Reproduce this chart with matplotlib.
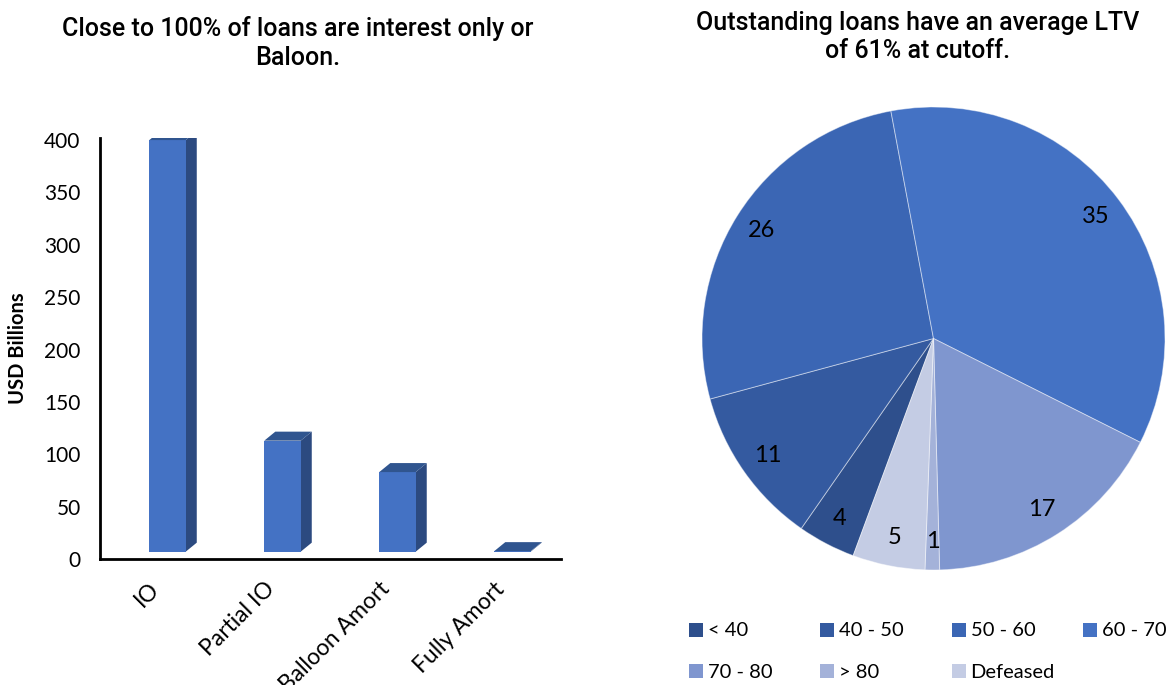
import matplotlib
matplotlib.use("Agg")
import matplotlib.pyplot as plt
from matplotlib.patches import Polygon, Rectangle
from matplotlib.transforms import ScaledTranslation

# ---- data -------------------------------------------------------------
loan_types = ["IO", "Partial IO", "Balloon Amort", "Fully Amort"]
balances = [393, 106, 76, 0.5]          # USD billions
y_ticks = [0, 50, 100, 150, 200, 250, 300, 350, 400]

ltv_buckets = ["< 40", "40 - 50", "50 - 60", "60 - 70", "70 - 80", "> 80", "Defeased"]
ltv_shares = [4, 11, 26, 35, 17, 1, 5]
ltv_colors = ["#2E4F8C", "#345AA0", "#3B66B4", "#4472C4", "#7F96CF", "#A4B2D9", "#C4CCE4"]

left_title = "Close to 100% of loans are interest only or\nBaloon."
right_title = "Outstanding loans have an average LTV\nof 61% at cutoff."

# ---- style ------------------------------------------------------------
plt.rcParams["font.family"] = ["Lato", "DejaVu Sans"]
W, H = 1170, 685
fig = plt.figure(figsize=(W / 100, H / 100), dpi=100)
fig.patch.set_facecolor("white")


def fx(px):
    return px / W


def fy(py):
    return 1 - py / H


# ---- left: pseudo-3D column chart -------------------------------------
FRONT, SIDE, CAP = "#4472C4", "#2C4A80", "#30558F"
FLOOR = 7          # columns sit slightly above the category axis
BAR_W = 0.317
DX, DY = 0.096, 8.6  # depth offset of the column sides

ax1 = fig.add_axes([fx(100), fy(559), fx(461), 421 / H])
xs = list(range(len(loan_types)))
ax1.bar(xs, balances, width=BAR_W, bottom=FLOOR, color=FRONT, linewidth=0, zorder=3)
for xi, v in zip(xs, balances):
    l, r = xi - BAR_W / 2, xi + BAR_W / 2
    top = FLOOR + v
    ax1.add_patch(Polygon([(r, FLOOR), (r + DX, FLOOR + DY), (r + DX, top + DY), (r, top)],
                          closed=True, facecolor=SIDE, edgecolor="none", zorder=2))
    ax1.add_patch(Polygon([(l, top), (r, top), (r + DX, top + DY), (l + DX, top + DY)],
                          closed=True, facecolor=CAP, edgecolor="none", zorder=4))

ax1.set_xlim(-0.587, 3.422)
ax1.set_ylim(0, 402)
for s in ("top", "right"):
    ax1.spines[s].set_visible(False)
for s in ("left", "bottom"):
    ax1.spines[s].set_color("black")
    ax1.spines[s].set_linewidth(2)

ax1.set_yticks(y_ticks)
ax1.tick_params(axis="y", length=0, pad=14, labelsize=15)
ax1.set_xticks(xs)
ax1.set_xticklabels(loan_types, rotation=45, ha="right", va="top", fontsize=16.5)
ax1.tick_params(axis="x", length=0, pad=14)
shift = ScaledTranslation(-4 / 100, 0, fig.dpi_scale_trans)
for lab in ax1.get_xticklabels():
    lab.set_transform(lab.get_transform() + shift)

ax1.set_ylabel("USD Billions", fontsize=14.5, fontweight="bold")
ax1.yaxis.set_label_coords(-0.156, 0.5)

fig.text(fx(298), fy(43), left_title, ha="center", va="center", fontsize=18,
         family="Roboto", fontweight="medium", linespacing=1.25)

# ---- right: LTV pie ---------------------------------------------------
ax2 = fig.add_axes([fx(702), fy(570), fx(463), 463 / H])
total = sum(ltv_shares)
ax2.pie(ltv_shares, colors=ltv_colors, startangle=249.7, counterclock=False, radius=1,
        autopct=lambda p: f"{p * total / 100:.0f}", pctdistance=0.875,
        wedgeprops=dict(edgecolor=(1, 1, 1, 0.45), linewidth=0.7),
        textprops=dict(fontsize=17, color="black"))
ax2.set_xlim(-1, 1)
ax2.set_ylim(-1, 1)

fig.text(fx(918), fy(37), right_title, ha="center", va="center", fontsize=18,
         family="Roboto", fontweight="medium", linespacing=1.25)

# legend laid out on a 4-column grid
for i, (name, col) in enumerate(zip(ltv_buckets, ltv_colors)):
    row, c = divmod(i, 4)
    x0 = 689 + 131.3 * c
    yc = 629.5 + 41.5 * row
    fig.patches.append(Rectangle((fx(x0), fy(yc + 7)), fx(14), 14 / H,
                                 transform=fig.transFigure, facecolor=col, edgecolor="none"))
    fig.text(fx(x0 + 19), fy(yc + 1), name, ha="left", va="center", fontsize=14.5)

fig.savefig("out.png", dpi=100)
